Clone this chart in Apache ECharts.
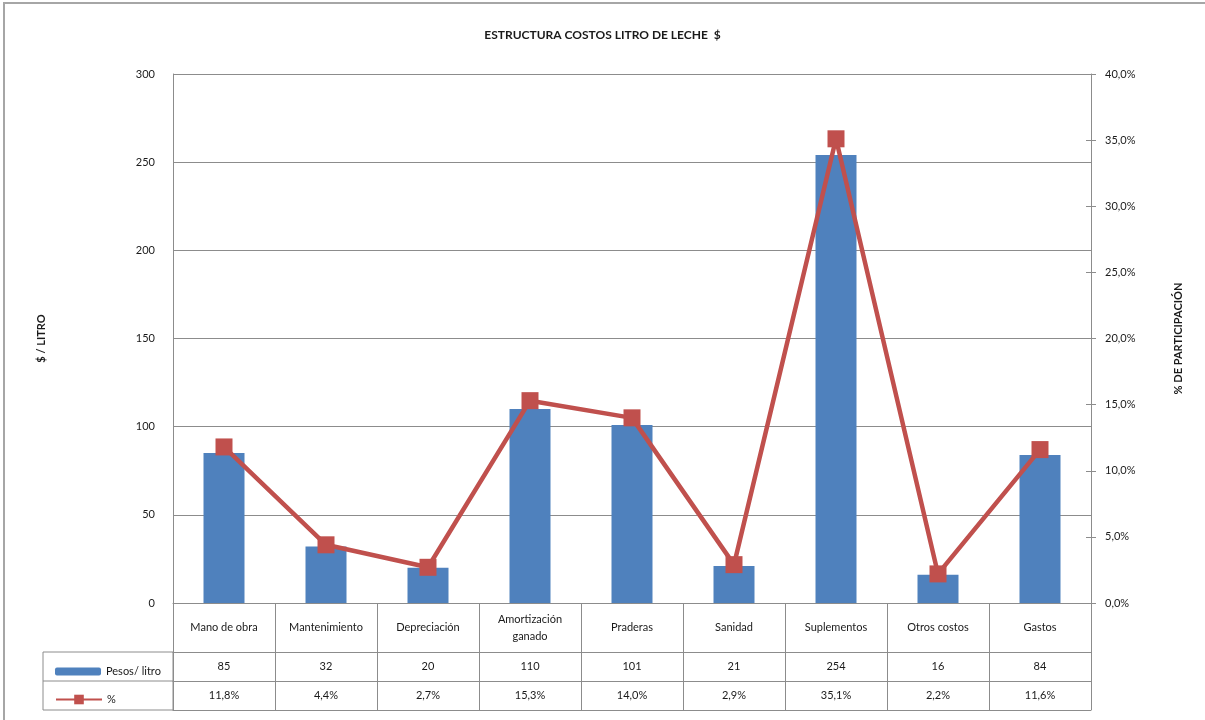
<!DOCTYPE html>
<html>
<head>
<meta charset="utf-8">
<title>Estructura costos litro de leche</title>
<script src="https://cdn.jsdelivr.net/npm/echarts@6/dist/echarts.min.js"></script>
<style>
  html, body { margin: 0; padding: 0; background: #fff; }
  #chart { width: 1205px; height: 720px; }
</style>
</head>
<body>
<div id="chart"></div>
<script>
// datos
const categories = ['Mano de obra', 'Mantenimiento', 'Depreciación', 'Amortización\nganado', 'Praderas', 'Sanidad', 'Suplementos', 'Otros costos', 'Gastos']
const pesosLitro = [85, 32, 20, 110, 101, 21, 254, 16, 84]
const participacion = [11.8, 4.4, 2.7, 15.3, 14.0, 2.9, 35.1, 2.2, 11.6]
const leftTicks = [0, 50, 100, 150, 200, 250, 300]
const rightTicks = [0, 5, 10, 15, 20, 25, 30, 35, 40]

const FONT = 'Lato'
const GRAY = '#8c8c8c'
const TXT = '#1a1a1a'

// grid en px
const G = { left: 173, right: 1091, top: 74, bottom: 603 }
const ROW1 = 652, ROW2 = 681, ROW3 = 710
const LEG_LEFT = 43

const pct = v => v.toFixed(1).replace('.', ',') + '%'

const chart = echarts.init(document.getElementById('chart'))

const tableAxis = (data, offset, showLabel) => ({
  type: 'category',
  data: data,
  position: 'bottom',
  offset: offset,
  axisLine: { show: true, onZero: false, lineStyle: { color: GRAY, width: 1 } },
  axisTick: { show: false },
  axisLabel: {
    show: showLabel,
    interval: 0,
    margin: 14.5,
    verticalAlign: 'middle',
    color: TXT,
    fontFamily: FONT,
    fontSize: 11
  },
  splitLine: { show: false }
})

const option = {
  animation: false,
  backgroundColor: '#fff',
  title: {
    text: 'ESTRUCTURA COSTOS LITRO DE LECHE  $',
    left: 'center',
    top: 24,
    textStyle: { fontFamily: FONT, fontSize: 12, fontWeight: 'bold', color: TXT }
  },
  legend: [
    {
      data: ['Pesos/ litro'],
      left: 50,
      top: 661,
      itemWidth: 46,
      itemHeight: 8,
      itemGap: 4,
      textStyle: { fontFamily: FONT, fontSize: 11, color: TXT }
    },
    {
      data: ['%'],
      left: 50,
      top: 689,
      itemWidth: 46,
      itemHeight: 12,
      textStyle: { fontFamily: FONT, fontSize: 11, color: TXT }
    }
  ],
  grid: {
    left: G.left,
    right: 1205 - G.right,
    top: G.top,
    bottom: 720 - G.bottom,
    containLabel: false
  },
  xAxis: [
    {
      type: 'category',
      data: categories,
      axisLine: { show: true, onZero: false, lineStyle: { color: GRAY, width: 1 } },
      axisTick: { show: true, interval: 0, length: ROW3 - G.bottom, lineStyle: { color: GRAY, width: 1 } },
      axisLabel: {
        interval: 0,
        margin: (ROW1 - G.bottom) / 2,
        verticalAlign: 'middle',
        lineHeight: 17,
        color: TXT,
        fontFamily: FONT,
        fontSize: 11
      }
    },
    tableAxis(pesosLitro.map(String), ROW1 - G.bottom, true),
    tableAxis(participacion.map(pct), ROW2 - G.bottom, true),
    tableAxis(categories.map(() => ''), ROW3 - G.bottom, false)
  ],
  yAxis: [
    {
      type: 'value',
      min: leftTicks[0],
      max: leftTicks[leftTicks.length - 1],
      interval: 50,
      name: '$ / LITRO',
      nameLocation: 'middle',
      nameRotate: 90,
      nameGap: 126,
      nameTextStyle: { fontFamily: FONT, fontSize: 11, fontWeight: 'bold', color: TXT },
      axisLine: { show: true, lineStyle: { color: GRAY, width: 1 } },
      axisTick: { show: false },
      axisLabel: { margin: 18, color: TXT, fontFamily: FONT, fontSize: 11 },
      splitLine: { show: true, lineStyle: { color: GRAY, width: 1 } }
    },
    {
      type: 'value',
      position: 'right',
      min: rightTicks[0],
      max: rightTicks[rightTicks.length - 1],
      interval: 5,
      name: '% DE PARTICIPACIÓN',
      nameLocation: 'middle',
      nameRotate: 90,
      nameGap: 82,
      nameTextStyle: { fontFamily: FONT, fontSize: 11, fontWeight: 'bold', color: TXT },
      axisLine: { show: true, lineStyle: { color: GRAY, width: 1 } },
      axisTick: { show: true, length: 5, lineStyle: { color: GRAY } },
      axisLabel: { margin: 14, color: TXT, fontFamily: FONT, fontSize: 11, formatter: pct },
      splitLine: { show: false }
    },
    {
      // marcas hacia dentro del eje derecho
      type: 'value',
      position: 'right',
      min: rightTicks[0],
      max: rightTicks[rightTicks.length - 1],
      interval: 5,
      axisLine: { show: false },
      axisTick: { show: true, inside: true, length: 5, lineStyle: { color: GRAY } },
      axisLabel: { show: false },
      splitLine: { show: false }
    }
  ],
  series: [
    {
      name: 'Pesos/ litro',
      type: 'bar',
      data: pesosLitro,
      barWidth: 41,
      itemStyle: { color: '#4F81BD' },
      z: 2
    },
    {
      name: '%',
      type: 'line',
      yAxisIndex: 1,
      data: participacion,
      symbol: 'rect',
      symbolSize: 17,
      lineStyle: { color: '#C0504D', width: 4.5 },
      itemStyle: { color: '#C0504D' },
      z: 3
    }
  ],
  graphic: [
    {
      type: 'rect',
      shape: { x: 4, y: 3, width: 1400, height: 900 },
      style: { fill: 'none', stroke: '#a6a6a6', lineWidth: 2 },
      silent: true,
      z: -1
    },
    {
      type: 'rect',
      shape: { x: LEG_LEFT, y: ROW1, width: G.left - LEG_LEFT, height: ROW3 - ROW1 },
      style: { fill: 'none', stroke: GRAY, lineWidth: 1 },
      silent: true
    },
    {
      type: 'line',
      shape: { x1: LEG_LEFT, y1: ROW2, x2: G.left, y2: ROW2 },
      style: { stroke: GRAY, lineWidth: 1 },
      silent: true
    }
  ]
}

chart.setOption(option)
window.addEventListener('resize', () => chart.resize())
</script>
</body>
</html>
